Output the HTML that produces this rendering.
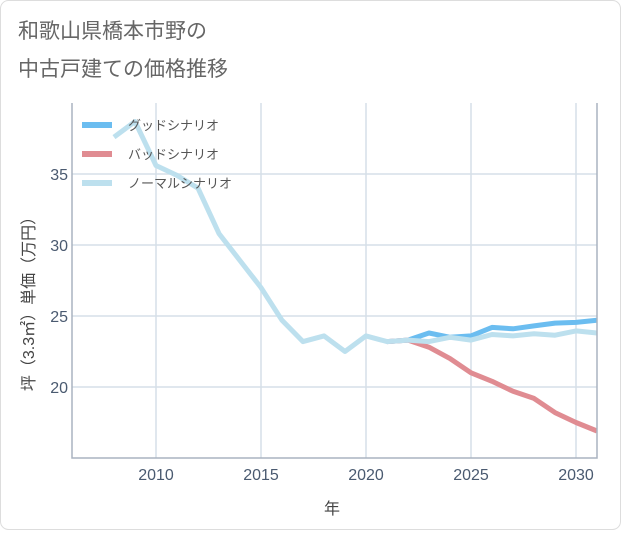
<!DOCTYPE html>
<html><head><meta charset="utf-8"><style>
body{margin:0;background:#fff;}
svg text{font-family:"Liberation Sans","Noto Sans CJK JP",sans-serif;}
</style></head><body>
<svg id="c" width="621" height="530">
<rect x="0.5" y="0.5" width="620" height="529" rx="8" fill="#fff" stroke="#ddd"/>
<text x="18" y="38" font-size="21" fill="#666">和歌山県橋本市野の</text>
<text x="18" y="76" font-size="21" fill="#666">中古戸建ての価格推移</text>
<g id="grid"></g><g id="series"></g><g id="axes"></g>
<text x="332" y="514" font-size="16" fill="#444" text-anchor="middle">年</text>
<text transform="translate(34,300) rotate(-90)" font-size="16" fill="#444" text-anchor="middle">坪（3.3㎡）単価（万円）</text>
<g>
<line x1="82" y1="125" x2="112" y2="125" stroke="#6bbdf0" stroke-width="6"/>
<text x="128" y="130" font-size="13" fill="#555">グッドシナリオ</text>
<line x1="82" y1="154" x2="112" y2="154" stroke="#e08c92" stroke-width="6"/>
<text x="128" y="159" font-size="13" fill="#555">バッドシナリオ</text>
<line x1="82" y1="183" x2="112" y2="183" stroke="#bde0ee" stroke-width="6"/>
<text x="128" y="188" font-size="13" fill="#555">ノーマルシナリオ</text>
</g>
</svg>
<script>
const normalYears=[2008,2009,2010,2011,2012,2013,2014,2015,2016,2017,2018,2019,2020,2021,2022,2023,2024,2025,2026,2027,2028,2029,2030,2031];
const normalVals=[37.6,38.7,35.6,34.9,34.0,30.8,28.9,27.0,24.7,23.2,23.6,22.5,23.6,23.2,23.3,23.2,23.5,23.3,23.7,23.6,23.75,23.65,23.95,23.8];
const goodYears=[2021,2022,2023,2024,2025,2026,2027,2028,2029,2030,2031];
const goodVals=[23.2,23.3,23.8,23.5,23.6,24.2,24.1,24.3,24.5,24.55,24.7];
const badYears=[2021,2022,2023,2024,2025,2026,2027,2028,2029,2030,2031];
const badVals=[23.2,23.3,22.8,22.0,21.0,20.4,19.7,19.2,18.2,17.5,16.9];
const xTicks=[2010,2015,2020,2025,2030];
const yTicks=[20,25,30,35];
const L=72,R=597,T=103,B=458,X0=2006,X1=2031,Y0=15,Y1=40;
const NS="http://www.w3.org/2000/svg";
const sx=v=>L+(v-X0)/(X1-X0)*(R-L);
const sy=v=>B-(v-Y0)/(Y1-Y0)*(B-T);
function mk(t,a,p){const e=document.createElementNS(NS,t);for(const k in a)e.setAttribute(k,a[k]);p.appendChild(e);return e;}
const grid=document.getElementById('grid'),axes=document.getElementById('axes'),ser=document.getElementById('series');
xTicks.forEach(v=>{
 const g=mk('line',{x1:sx(v),x2:sx(v),y1:T,y2:B,stroke:'#d5dfe8','stroke-width':1.5},grid);
 
 
 const t=mk('text',{x:sx(v),y:B+22,'font-size':16,fill:'#4a5a70','text-anchor':'middle'},axes);
 t.textContent=v;
 
 
});
yTicks.forEach(v=>{
 const g=mk('line',{x1:L,x2:R,y1:sy(v),y2:sy(v),stroke:'#d5dfe8','stroke-width':1.5},grid);
 
 
 const t=mk('text',{x:L-4,y:sy(v)+6,'font-size':16,fill:'#4a5a70','text-anchor':'end'},axes);
 t.textContent=v;
 
 
});
const ax=mk('path',{d:`M${L},${T}V${B}H${R}V${T}`,fill:'none',stroke:'#aab4c0','stroke-width':1.5},axes);


function line(xs,ys,col,name){
 const d=xs.map((x,i)=>(i?'L':'M')+sx(x).toFixed(1)+','+sy(ys[i]).toFixed(1)).join('');
 const p=mk('path',{d:d,fill:'none',stroke:col,'stroke-width':5,'stroke-linejoin':'round','clip-path':'url(#clip)'},ser);
 
 
}
const defs=mk('defs',{},document.getElementById('c'));
const cp=mk('clipPath',{id:'clip'},defs);mk('rect',{x:L,y:T,width:R-L,height:B-T},cp);
line(goodYears,goodVals,'#6bbdf0','good-scenario-line');
line(badYears,badVals,'#e08c92','bad-scenario-line');
line(normalYears,normalVals,'#bde0ee','normal-scenario-line');
</script>
</body></html>
